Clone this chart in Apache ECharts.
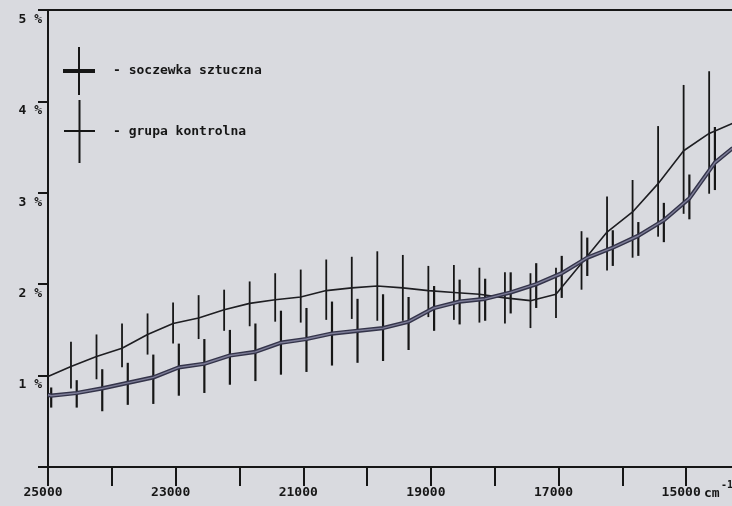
<!DOCTYPE html>
<html>
<head>
<meta charset="utf-8">
<script src="https://cdn.jsdelivr.net/npm/echarts@6/dist/echarts.min.js"></script>
<style>
html,body{margin:0;padding:0;background:#d9dadf;}
#chart{width:732px;height:506px;}
</style>
</head>
<body>
<div id="chart"></div>
<script>
// wavenumbers (cm^-1) of error-bar points
const thickX = [24950,24550,24150,23750,23350,22950,22550,22150,21750,21350,20950,20550,20150,19750,19350,18950,18550,18150,17750,17350,16950,16550,16150,15750,15350,14950,14550];
const thickVal = [0.78,0.81,0.86,0.92,0.98,1.09,1.13,1.22,1.26,1.36,1.40,1.46,1.49,1.52,1.59,1.74,1.81,1.84,1.91,2.00,2.12,2.29,2.40,2.53,2.70,2.94,3.33];
const thickHi  = [0.87,0.95,1.07,1.14,1.23,1.35,1.40,1.50,1.57,1.71,1.74,1.81,1.84,1.89,1.86,1.98,2.05,2.06,2.13,2.23,2.31,2.51,2.59,2.68,2.89,3.20,3.72];
const thickLo  = [0.65,0.65,0.61,0.68,0.69,0.78,0.81,0.90,0.94,1.01,1.04,1.11,1.14,1.16,1.28,1.49,1.56,1.60,1.68,1.74,1.85,2.09,2.20,2.31,2.46,2.71,3.03];
const thickStart = [25000, 0.79];
const thickEnd = [14270, 3.49];

const thinX = [24640,24240,23840,23440,23040,22640,22240,21840,21440,21040,20640,20240,19840,19440,19040,18640,18240,17840,17440,17040,16640,16240,15840,15440,15040,14640];
const thinVal = [1.10,1.21,1.30,1.45,1.57,1.63,1.72,1.79,1.83,1.86,1.93,1.96,1.98,1.96,1.93,1.91,1.89,1.85,1.82,1.89,2.23,2.57,2.79,3.10,3.46,3.65];
const thinHi  = [1.37,1.45,1.57,1.68,1.80,1.88,1.94,2.03,2.12,2.16,2.27,2.30,2.36,2.32,2.20,2.21,2.18,2.13,2.12,2.18,2.58,2.96,3.14,3.73,4.18,4.33];
const thinLo  = [0.86,0.96,1.09,1.23,1.35,1.40,1.49,1.54,1.59,1.58,1.61,1.62,1.60,1.60,1.64,1.61,1.58,1.57,1.52,1.63,1.94,2.15,2.29,2.52,2.77,2.99];
const thinStart = [25000, 0.99];
const thinEnd = [14270, 3.76];

const xTickLabels = [25000, 23000, 21000, 19000, 17000, 15000];
const yTickLabels = ['1 %', '2 %', '3 %', '4 %', '5 %'];
const seriesNames = ['soczewka sztuczna', 'grupa kontrolna'];

const FONT = 'DejaVu Sans Mono';
const INK = '#161616';

const thickLine = [thickStart].concat(thickX.map((x, i) => [x, thickVal[i]])).concat([thickEnd]);
const thinLine = [thinStart].concat(thinX.map((x, i) => [x, thinVal[i]])).concat([thinEnd]);
const thickBars = thickX.map((x, i) => [x, thickLo[i], thickHi[i]]);
const thinBars = thinX.map((x, i) => [x, thinLo[i], thinHi[i]]);

function barRenderer(width) {
  return function (params, api) {
    const x = api.value(0);
    const p1 = api.coord([x, api.value(1)]);
    const p2 = api.coord([x, api.value(2)]);
    return {
      type: 'line',
      shape: { x1: p1[0], y1: p1[1], x2: p2[0], y2: p2[1] },
      style: { stroke: INK, lineWidth: width }
    };
  };
}

const legendText = {
  fontFamily: FONT, fontSize: 13, fontWeight: 'bold', color: INK,
  padding: [0, 0, 0, 13]
};

const chart = echarts.init(document.getElementById('chart'));
chart.setOption({
  animation: false,
  backgroundColor: '#d9dadf',
  grid: {
    left: 48, top: 10, right: -18, bottom: 39,
    outerBoundsMode: 'none', containLabel: false,
    show: true, borderColor: INK, borderWidth: 2, backgroundColor: 'transparent'
  },
  legend: [
    {
      data: [{ name: seriesNames[0],
               icon: 'path://M0,22 L32,22 L32,26 L0,26 Z M15,0 L17,0 L17,48 L15,48 Z',
               itemStyle: { color: INK } }],
      left: 63, top: 47, padding: 0, itemWidth: 32, itemHeight: 48,
      selectedMode: false, formatter: '- {name}', textStyle: legendText
    },
    {
      data: [{ name: seriesNames[1],
               icon: 'path://M0,30 L31,30 L31,32 L0,32 Z M14.5,0 L16.5,0 L16.5,63 L14.5,63 Z',
               itemStyle: { color: INK } }],
      left: 64, top: 100, padding: 0, itemWidth: 31, itemHeight: 63,
      selectedMode: false, formatter: '- {name}', textStyle: legendText
    }
  ],
  xAxis: {
    type: 'value', min: 14000, max: 25000, interval: 1000, inverse: true,
    axisLine: { show: true, lineStyle: { color: INK, width: 2 } },
    axisTick: { show: true, length: 19, lineStyle: { color: INK, width: 2 } },
    splitLine: { show: false },
    axisLabel: {
      margin: 19, color: INK, fontFamily: FONT, fontSize: 13, fontWeight: 'bold',
      padding: [0, 10, 0, 0],
      formatter: v => xTickLabels.indexOf(v) >= 0 ? String(v) : ''
    }
  },
  yAxis: {
    type: 'value', min: 0, max: 5, interval: 1,
    axisLine: { show: true, lineStyle: { color: INK, width: 2 } },
    axisTick: { show: true, length: 10, lineStyle: { color: INK, width: 2 } },
    splitLine: { show: false },
    axisLabel: {
      margin: 6, color: INK, fontFamily: FONT, fontSize: 13, fontWeight: 'bold',
      verticalAlign: 'top', padding: [3, 0, 0, 0],
      formatter: v => v >= 1 ? yTickLabels[v - 1] : ''
    }
  },
  graphic: [
    {
      type: 'text', left: 704, top: 487,
      style: { text: 'cm', fontFamily: FONT, fontSize: 13, fontWeight: 'bold', fill: INK }
    },
    {
      type: 'text', left: 721, top: 480,
      style: { text: '-1', fontFamily: FONT, fontSize: 10, fontWeight: 'bold', fill: INK }
    }
  ],
  series: [
    {
      name: 'eb-thin', type: 'custom', renderItem: barRenderer(1.8),
      encode: { x: 0, y: [1, 2] }, data: thinBars, z: 3, silent: true, clip: true
    },
    {
      name: 'eb-thick', type: 'custom', renderItem: barRenderer(2.2),
      encode: { x: 0, y: [1, 2] }, data: thickBars, z: 3, silent: true, clip: true
    },
    {
      name: seriesNames[1], type: 'line', data: thinLine, symbol: 'none', showSymbol: false,
      lineStyle: { color: '#1e1e22', width: 1.6 }, itemStyle: { color: INK }, z: 4, clip: true
    },
    {
      name: seriesNames[0], type: 'line', data: thickLine, symbol: 'none', showSymbol: false,
      lineStyle: { color: '#34344a', width: 4.2 }, itemStyle: { color: INK }, z: 5, clip: true
    },
    {
      name: 'thick-core', type: 'line', data: thickLine, symbol: 'none', showSymbol: false,
      lineStyle: { color: '#7d7d98', width: 1.4 }, z: 6, clip: true, silent: true
    }
  ]
});
</script>
</body>
</html>
